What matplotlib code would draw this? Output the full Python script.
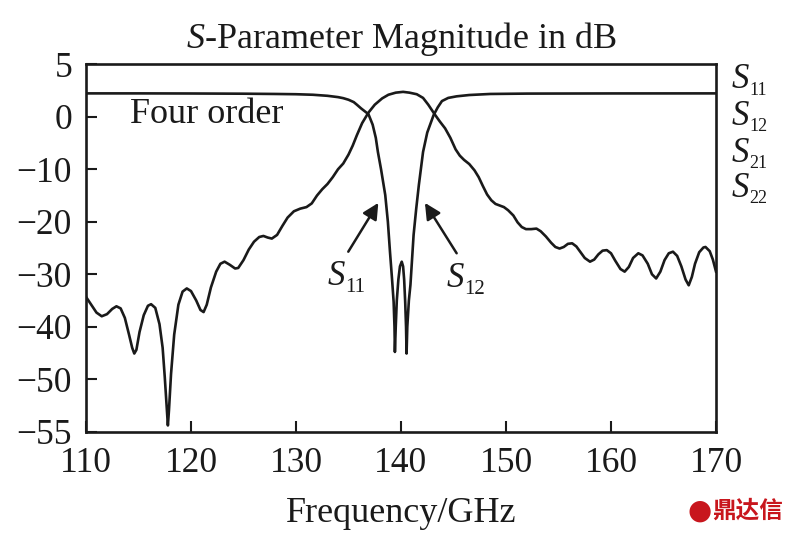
import matplotlib
matplotlib.use("Agg")
import matplotlib.pyplot as plt

plt.rcParams["font.family"] = ["Liberation Serif", "DejaVu Serif"]
plt.rcParams["mathtext.fontset"] = "custom"
plt.rcParams["mathtext.rm"] = "Liberation Serif"
plt.rcParams["mathtext.it"] = "Liberation Serif:italic"

# transmission curve (peak at 140 GHz)
freq_b = [110.0, 110.5, 111.0, 111.5, 112.0, 112.5, 112.9, 113.3, 113.7, 114.1,
          114.4, 114.6, 114.8, 115.1, 115.5, 115.9, 116.2, 116.6, 117.0, 117.3,
          117.5, 117.7, 117.8, 117.9, 118.1, 118.4, 118.8, 119.2, 119.6, 120.0,
          120.5, 120.9, 121.2, 121.5, 121.9, 122.4, 122.8, 123.2, 123.7, 124.2,
          124.5, 125.0, 125.5, 126.0, 126.5, 126.9, 127.3, 127.7, 128.2, 128.7,
          129.2, 129.8, 130.4, 131.0, 131.5, 132.0, 132.5, 133.0, 133.5, 134.0,
          134.5, 135.0, 135.4, 135.8, 136.3, 136.9, 137.5, 138.2, 138.8, 139.5,
          140.2, 140.8, 141.5, 142.1, 142.6, 143.2, 143.7, 144.2, 144.7, 145.2,
          145.6, 146.0, 146.5, 147.0, 147.4, 147.8, 148.2, 148.6, 149.0, 149.4,
          149.8, 150.2, 150.7, 151.1, 151.5, 151.9, 152.4, 152.9, 153.3, 153.8,
          154.3, 154.7, 155.1, 155.5, 155.9, 156.3, 156.7, 157.1, 157.5, 158.0,
          158.4, 158.8, 159.2, 159.6, 160.0, 160.4, 160.9, 161.3, 161.7, 162.1,
          162.6, 163.0, 163.5, 163.9, 164.3, 164.7, 165.1, 165.5, 165.9, 166.3,
          166.7, 167.1, 167.4, 167.7, 168.0, 168.4, 168.8, 169.0, 169.4, 169.7,
          170.0]
db_b = [-34.3, -35.8, -37.3, -38.0, -37.6, -36.6, -36.1, -36.5, -38.3, -41.5,
        -44.0, -45.1, -44.4, -41.0, -37.8, -36.0, -35.7, -36.4, -39.5, -44.0,
        -49.5, -55.5, -58.8, -56.0, -49.0, -41.5, -35.8, -33.3, -32.7, -33.2,
        -35.0, -36.8, -37.2, -35.8, -32.5, -29.5, -28.0, -27.6, -28.2, -28.9,
        -28.8, -27.3, -25.3, -23.8, -22.9, -22.7, -23.0, -23.2, -22.5, -20.8,
        -19.2, -18.0, -17.5, -17.2, -16.5, -15.0, -13.8, -12.8, -11.5, -10.0,
        -8.9, -7.2, -5.5, -3.5, -1.2, 0.8, 2.3, 3.5, 4.2, 4.6,
        4.75, 4.6, 4.3, 3.6, 2.3, 0.5, -0.9, -2.2, -4.0, -6.2,
        -7.4, -8.2, -9.0, -10.2, -11.5, -13.2, -14.8, -15.9, -16.6, -16.9,
        -17.2, -17.8, -18.8, -20.1, -21.0, -21.4, -21.4, -21.3, -21.8, -22.8,
        -24.0, -24.8, -25.1, -24.8, -24.2, -24.1, -24.7, -25.8, -26.9, -27.6,
        -27.2, -26.2, -25.5, -25.4, -26.0, -27.4, -29.0, -29.5, -28.6, -26.9,
        -26.0, -26.4, -28.0, -30.0, -30.8, -29.5, -27.3, -26.0, -25.7, -26.5,
        -28.5, -31.0, -32.1, -30.5, -28.0, -25.8, -24.9, -24.8, -25.6, -27.2,
        -29.5]

# reflection curve (two nulls near 140 GHz)
freq_a = [110.0, 115.0, 120.0, 125.0, 128.0, 130.0, 131.6, 133.0, 134.0, 134.5,
          135.0, 135.5, 135.8, 136.2, 136.9, 137.3, 137.6, 137.8, 138.1, 138.5,
          138.75, 138.95, 139.15, 139.3, 139.38, 139.42, 139.5, 139.6, 139.75, 139.9,
          140.07, 140.2, 140.3, 140.4, 140.48, 140.53, 140.6, 140.75, 140.9, 141.2,
          141.45, 141.7, 142.1, 142.5, 143.1, 143.5, 143.9, 144.5, 145.3, 146.5,
          148.5, 152.0, 160.0, 170.0]
db_a = [4.46, 4.46, 4.44, 4.4, 4.35, 4.3, 4.2, 4.0, 3.75, 3.55,
        3.25, 2.8, 2.3, 1.6, 0.5, -1.5, -4.0, -6.7, -10.0, -14.9,
        -20.0, -25.7, -31.0, -35.3, -40.0, -44.8, -40.0, -35.0, -31.0, -28.5,
        -27.6, -28.5, -31.0, -35.3, -40.0, -45.1, -40.0, -35.0, -32.0, -22.5,
        -17.5, -13.0, -6.7, -3.0, 0.3, 1.8, 3.0, 3.6, 3.9, 4.15,
        4.35, 4.42, 4.45, 4.46]

x_ticks = [110, 120, 130, 140, 150, 160, 170]
y_ticks = [10, 0, -10, -20, -30, -40, -50, -60]
y_tick_labels = ["5", "0", "\u221210", "\u221220", "\u221230", "\u221240", "\u221250", "\u221255"]
legend_subs = ["11", "12", "21", "22"]

INK = "#1a1a1a"

fig = plt.figure(figsize=(7.91, 5.35), dpi=100)
ax = fig.add_axes([0.1087, 0.193, 0.7965, 0.6868])

ax.plot(freq_a, db_a, color=INK, lw=1.9)
ax.plot(freq_b, db_b, color=INK, lw=1.9)

ax.set_xlim(110, 170)
ax.set_ylim(-60, 10)
ax.set_xticks(x_ticks)
ax.set_yticks(y_ticks)
ax.set_yticklabels(y_tick_labels)
ax.tick_params(direction="in", length=8, width=1.5, labelsize=25.5, colors=INK)
ax.tick_params(axis="x", pad=11)
ax.tick_params(axis="y", pad=10)
for sp in ax.spines.values():
    sp.set_linewidth(1.9)
    sp.set_color(INK)

ax.set_title(r"$S$-Parameter Magnitude in dB", fontsize=26, color=INK, pad=12)
ax.set_xlabel("Frequency/GHz", fontsize=26, color=INK, labelpad=12)

ax.text(114.2, 0.4, "Four order", fontsize=26, ha="left", va="center", color=INK)


def s_label(x, y, sub, size, subsize, drop):
    # italic S with an upright subscript, baseline at (x, y)
    ax.text(x, y, "S", fontsize=size, style="italic", ha="left", va="baseline",
            color=INK, clip_on=False)
    ax.annotate(sub, (x, y), xytext=(size * 0.5, -drop), textcoords="offset points",
                fontsize=subsize, ha="left", va="baseline", color=INK,
                annotation_clip=False)


# arrows pointing at the notch branches
arrow = dict(arrowstyle="-|>", color=INK, lw=1.8, mutation_scale=24, shrinkA=0, shrinkB=0)
ax.annotate("", xy=(137.84, -16.4), xytext=(134.98, -25.7), arrowprops=arrow)
ax.annotate("", xy=(142.28, -16.4), xytext=(145.3, -26.0), arrowprops=arrow)
s_label(133.05, -32.1, "11", 25, 15, 4.8)
s_label(144.35, -32.4, "12", 25, 15, 4.8)

# labels at the right side
for sub, yy in zip(legend_subs, [5.4, -1.6, -8.6, -15.25]):
    s_label(171.5, yy, sub, 25, 13, 4.5)

# watermark
fig.text(0.885, 0.045, "\u25cf", fontsize=20, color="#c8161d", ha="center", va="center",
         family=["DejaVu Sans"])
fig.text(0.901, 0.045, "鼎达信", fontsize=17, color="#c8161d", ha="left", va="center",
         family=["Noto Sans CJK SC"], fontweight="bold")

fig.savefig("out.png", dpi=100)
